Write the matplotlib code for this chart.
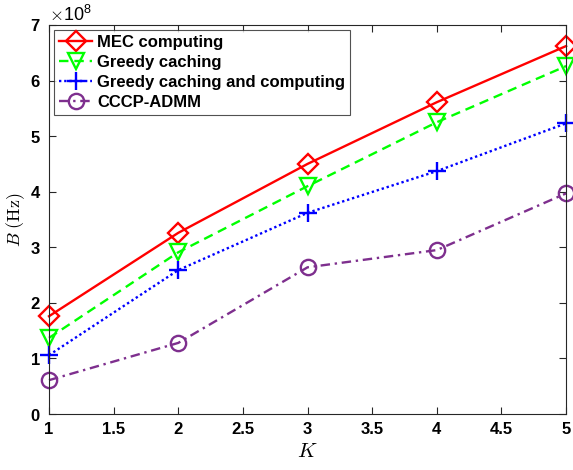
import numpy as np
import matplotlib.pyplot as plt
from matplotlib.ticker import ScalarFormatter

plt.rcParams['font.family'] = 'Liberation Sans'
plt.rcParams['mathtext.fontset'] = 'cm'

# number of ... K
K = [1, 2, 3, 4, 5]
mec = [1.76e8, 3.26e8, 4.50e8, 5.61e8, 6.62e8]
greedyCache = [1.37e8, 2.91e8, 4.10e8, 5.25e8, 6.26e8]
greedyBoth = [1.06e8, 2.59e8, 3.62e8, 4.37e8, 5.23e8]
cccp = [0.61e8, 1.28e8, 2.64e8, 2.95e8, 3.97e8]

names = ['MEC computing', 'Greedy caching', 'Greedy caching and computing', 'CCCP-ADMM']

fig = plt.figure(figsize=(5.73, 4.70), dpi=100)
ax = fig.add_axes([0.0855, 0.119, 0.9025, 0.828])

purple = (0.494, 0.184, 0.557)
ax.plot(K, mec, '-', color='r', lw=1.7, marker='D', ms=10, mfc='none', mew=1.7,
        label=names[0], clip_on=False)
ax.plot(K, greedyCache, color=(0, 1, 0), lw=1.7, ls=(0, (4, 2.5)), marker='v', ms=12,
        mfc='none', mew=1.7, label=names[1], clip_on=False)
ax.plot(K, greedyBoth, color='b', lw=1.7, ls=(0, (1, 1.2)), marker='+', ms=13, mew=1.7,
        label=names[2], clip_on=False)
ax.plot(K, cccp, color=purple, lw=1.7, ls=(0, (4, 2, 1, 2)), marker='o', ms=11, mfc='none',
        mew=1.7, label=names[3], clip_on=False)

ax.set_xlim(1, 5)
ax.set_ylim(0, 7e8)
ax.set_xticks(np.arange(1, 5.01, 0.5))
ax.set_xticklabels(['1', '1.5', '2', '2.5', '3', '3.5', '4', '4.5', '5'])
fmt = ScalarFormatter(useMathText=True)
fmt.set_powerlimits((0, 0))
ax.yaxis.set_major_formatter(fmt)
ax.yaxis.get_offset_text().set_fontsize(13)

ax.tick_params(direction='in', top=True, right=True, labelsize=12, length=5, pad=6,
               color='#262626')
for lab in ax.get_xticklabels() + ax.get_yticklabels():
    lab.set_fontweight('bold')
for s in ax.spines.values():
    s.set_color('#262626')
    s.set_linewidth(0.8)

ax.set_xlabel('$K$', fontsize=15, labelpad=3)
ax.set_ylabel(r'$B\ \mathrm{(Hz)}$', fontsize=13, labelpad=2)

leg = ax.legend(loc='upper left', prop={'weight': 'bold', 'size': 12}, fancybox=False,
                edgecolor='#262626', handlelength=2.0, borderpad=0.3, labelspacing=0.3,
                handletextpad=0.3, borderaxespad=0.3)
leg.get_frame().set_linewidth(0.8)

fig.savefig('out.png', dpi=100)
